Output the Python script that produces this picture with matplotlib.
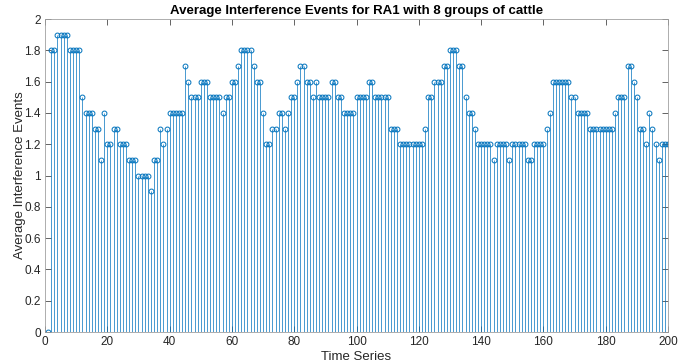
import matplotlib
matplotlib.use("Agg")
import matplotlib.pyplot as plt
import numpy as np

# Time index of each sample
time_steps = np.arange(1, 201)

# Average interference events per time step (RA1, 8 groups of cattle)
avg_events = [
    0.0, 1.8, 1.8, 1.9, 1.9, 1.9, 1.9, 1.8, 1.8, 1.8,
    1.8, 1.5, 1.4, 1.4, 1.4, 1.3, 1.3, 1.1, 1.4, 1.2,
    1.2, 1.3, 1.3, 1.2, 1.2, 1.2, 1.1, 1.1, 1.1, 1.0,
    1.0, 1.0, 1.0, 0.9, 1.1, 1.1, 1.3, 1.2, 1.3, 1.4,
    1.4, 1.4, 1.4, 1.4, 1.7, 1.6, 1.5, 1.5, 1.5, 1.6,
    1.6, 1.6, 1.5, 1.5, 1.5, 1.5, 1.4, 1.5, 1.5, 1.6,
    1.6, 1.7, 1.8, 1.8, 1.8, 1.8, 1.7, 1.6, 1.6, 1.4,
    1.2, 1.2, 1.3, 1.3, 1.4, 1.4, 1.3, 1.4, 1.5, 1.5,
    1.6, 1.7, 1.7, 1.6, 1.6, 1.5, 1.6, 1.5, 1.5, 1.5,
    1.5, 1.6, 1.6, 1.5, 1.5, 1.4, 1.4, 1.4, 1.4, 1.5,
    1.5, 1.5, 1.5, 1.6, 1.6, 1.5, 1.5, 1.5, 1.5, 1.5,
    1.3, 1.3, 1.3, 1.2, 1.2, 1.2, 1.2, 1.2, 1.2, 1.2,
    1.2, 1.3, 1.5, 1.5, 1.6, 1.6, 1.6, 1.7, 1.7, 1.8,
    1.8, 1.8, 1.7, 1.7, 1.5, 1.4, 1.4, 1.3, 1.2, 1.2,
    1.2, 1.2, 1.2, 1.1, 1.2, 1.2, 1.2, 1.2, 1.1, 1.2,
    1.2, 1.2, 1.2, 1.2, 1.1, 1.1, 1.2, 1.2, 1.2, 1.2,
    1.3, 1.4, 1.6, 1.6, 1.6, 1.6, 1.6, 1.6, 1.5, 1.5,
    1.4, 1.4, 1.4, 1.4, 1.3, 1.3, 1.3, 1.3, 1.3, 1.3,
    1.3, 1.3, 1.4, 1.5, 1.5, 1.5, 1.7, 1.7, 1.6, 1.5,
    1.3, 1.3, 1.2, 1.4, 1.3, 1.2, 1.1, 1.2, 1.2, 1.2,
]

x_ticks = list(range(0, 201, 20))
y_ticks = [0, 0.2, 0.4, 0.6, 0.8, 1, 1.2, 1.4, 1.6, 1.8, 2]
y_tick_labels = ["0", "0.2", "0.4", "0.6", "0.8", "1", "1.2", "1.4", "1.6", "1.8", "2"]

plt.rcParams["font.family"] = ["Liberation Sans", "DejaVu Sans"]

stem_color = "#0072BD"
axis_color = "#262626"

fig = plt.figure(figsize=(6.83, 3.64), dpi=100)
ax = fig.add_axes([0.0659, 0.0879, 0.9122, 0.8599])

markerline, stemlines, baseline = ax.stem(time_steps, avg_events,
                                          linefmt="-", markerfmt="o", basefmt=" ")
plt.setp(stemlines, color=stem_color, linewidth=0.5)
plt.setp(markerline, markersize=3.5, markerfacecolor="none",
         markeredgecolor=stem_color, markeredgewidth=0.7)

ax.set_xlim(0, 200)
ax.set_ylim(0, 2)
ax.set_xticks(x_ticks)
ax.set_yticks(y_ticks)
ax.set_yticklabels(y_tick_labels)

ax.tick_params(direction="in", top=True, right=True, length=4, width=0.5,
               color=axis_color, labelcolor=axis_color, labelsize=8.5, pad=3)
for spine in ax.spines.values():
    spine.set_color("#a0a0a0")
    spine.set_linewidth(0.6)

ax.set_title("Average Interference Events for RA1 with 8 groups of cattle",
             fontsize=9.5, fontweight="bold", color="black", pad=3.5)
ax.set_xlabel("Time Series", fontsize=9.5, color=axis_color, labelpad=2)
ax.set_ylabel("Average Interference Events", fontsize=9.5, color=axis_color, labelpad=-1)

fig.savefig("out.png", dpi=100, facecolor="white")
